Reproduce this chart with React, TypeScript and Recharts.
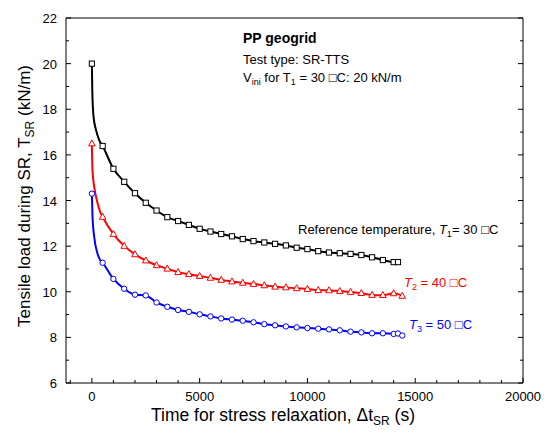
import React from 'react';
import { ComposedChart, Line, Scatter, XAxis, YAxis } from 'recharts';

// ---------- data ----------
const markerTimes = [
  0, 500, 1000, 1500, 2000, 2500, 3000, 3500, 4000, 4500, 5000, 5500, 6000, 6500, 7000,
  7500, 8000, 8500, 9000, 9500, 10000, 10500, 11000, 11500, 12000, 12500, 13000, 13500, 14000,
];
const t1Loads = [
  20.0, 16.39, 15.39, 14.82, 14.32, 13.9, 13.56, 13.27, 13.1, 12.93, 12.76, 12.64, 12.53, 12.43, 12.31,
  12.22, 12.16, 12.1, 12.03, 11.93, 11.87, 11.78, 11.72, 11.69, 11.66, 11.61, 11.51, 11.39, 11.3,
];
const t2Loads = [
  16.5, 13.28, 12.53, 12.01, 11.64, 11.37, 11.16, 11.01, 10.86, 10.77, 10.69, 10.61, 10.52, 10.45, 10.39,
  10.34, 10.28, 10.22, 10.19, 10.15, 10.12, 10.07, 10.06, 10.03, 9.99, 9.94, 9.86, 9.85, 9.93,
];
const t3Loads = [
  14.3, 11.27, 10.56, 10.13, 9.87, 9.84, 9.53, 9.34, 9.2, 9.12, 9.01, 8.92, 8.83, 8.78, 8.73,
  8.66, 8.58, 8.53, 8.48, 8.44, 8.41, 8.38, 8.35, 8.31, 8.25, 8.22, 8.18, 8.18, 8.15,
];
const t1EndTimes = [14200];
const t1EndLoads = [11.3];
const t2EndTimes = [14400];
const t2EndLoads = [9.82];
const t3EndTimes = [14200, 14400];
const t3EndLoads = [8.17, 8.08];

// early part of the continuous curves (between first two markers)
const t1EarlyTimes = [20, 75, 190, 340];
const t1EarlyLoads = [18.8, 17.7, 17.1, 16.65];
const t2EarlyTimes = [30, 110, 260, 385];
const t2EarlyLoads = [15.3, 14.6, 13.9, 13.5];
const t3EarlyTimes = [30, 110, 260, 385];
const t3EarlyLoads = [13.3, 12.4, 11.68, 11.39];

const xMajorTicks = [0, 5000, 10000, 15000, 20000];
const xAllTicks = [
  -1000, 0, 1000, 2000, 3000, 4000, 5000, 6000, 7000, 8000, 9000, 10000, 11000, 12000, 13000,
  14000, 15000, 16000, 17000, 18000, 19000, 20000,
];
const yMajorTicks = [6, 8, 10, 12, 14, 16, 18, 20, 22];
const yAllTicks = [6, 7, 8, 9, 10, 11, 12, 13, 14, 15, 16, 17, 18, 19, 20, 21, 22];
const xDomain = [-1200, 20000];
const yDomain = [6, 22];

// ---------- build tables ----------
type P = { x: number; y: number };
const zip = (xs: number[], ys: number[]): P[] => xs.map((x, i) => ({ x, y: ys[i] }));
const markers = (loads: number[], endT: number[], endL: number[]) =>
  [...zip(markerTimes, loads), ...zip(endT, endL)];
const curve = (loads: number[], endT: number[], endL: number[], eT: number[], eL: number[]) =>
  [...markers(loads, endT, endL), ...zip(eT, eL)].sort((a, b) => a.x - b.x);

const t1Markers = markers(t1Loads, t1EndTimes, t1EndLoads);
const t2Markers = markers(t2Loads, t2EndTimes, t2EndLoads);
const t3Markers = markers(t3Loads, t3EndTimes, t3EndLoads);
const t1Curve = curve(t1Loads, t1EndTimes, t1EndLoads, t1EarlyTimes, t1EarlyLoads);
const t2Curve = curve(t2Loads, t2EndTimes, t2EndLoads, t2EarlyTimes, t2EarlyLoads);
const t3Curve = curve(t3Loads, t3EndTimes, t3EndLoads, t3EarlyTimes, t3EarlyLoads);

const FONT = '"Liberation Sans", Arial, Helvetica, sans-serif';

// ---------- ticks (inward) ----------
const BottomTick = (props: any) => {
  const { x, y, payload } = props;
  const major = xMajorTicks.includes(payload.value);
  return (
    <g>
      <line x1={x} x2={x} y1={y} y2={y - (major ? 5 : 3)} stroke="#000" strokeWidth={1} />
      {major && (
        <text x={x} y={y + 18} textAnchor="middle" fontSize={13} fontFamily={FONT} fill="#000">
          {payload.value}
        </text>
      )}
    </g>
  );
};
const TopTick = (props: any) => {
  const { x, y, payload } = props;
  const major = xMajorTicks.includes(payload.value);
  return <line x1={x} x2={x} y1={y} y2={y + (major ? 5 : 3)} stroke="#000" strokeWidth={1} />;
};
const LeftTick = (props: any) => {
  const { x, y, payload } = props;
  const major = yMajorTicks.includes(payload.value);
  return (
    <g>
      <line x1={x} x2={x + (major ? 5 : 3)} y1={y} y2={y} stroke="#000" strokeWidth={1} />
      {major && (
        <text x={x - 9} y={y + 5} textAnchor="end" fontSize={13} fontFamily={FONT} fill="#000">
          {payload.value}
        </text>
      )}
    </g>
  );
};
const RightTick = (props: any) => {
  const { x, y, payload } = props;
  const major = yMajorTicks.includes(payload.value);
  return <line x1={x} x2={x - (major ? 5 : 3)} y1={y} y2={y} stroke="#000" strokeWidth={1} />;
};

// ---------- markers ----------
const SquareMark = (p: any) => (
  <rect x={p.cx - 2.6} y={p.cy - 2.6} width={5.2} height={5.2} fill="#fff" stroke="#000" strokeWidth={1} />
);
const TriangleMark = (p: any) => (
  <polygon
    points={`${p.cx},${p.cy - 3.6} ${p.cx - 3.3},${p.cy + 2.4} ${p.cx + 3.3},${p.cy + 2.4}`}
    fill="#fff"
    stroke="#ff0000"
    strokeWidth={1}
  />
);
const CircleMark = (p: any) => (
  <circle cx={p.cx} cy={p.cy} r={2.7} fill="#fff" stroke="#0000ff" strokeWidth={1} />
);

export default function App() {
  return (
    <div style={{ position: 'absolute', left: 0, top: 0, width: 544, height: 435, background: '#fff' }}>
      <ComposedChart width={544} height={435} margin={{ top: 0, right: 0, bottom: 0, left: 0 }}>
        <XAxis
          xAxisId="b"
          dataKey="x"
          type="number"
          orientation="bottom"
          domain={xDomain}
          allowDataOverflow
          ticks={xAllTicks}
          interval={0}
          height={52}
          tickSize={0}
          tickMargin={0}
          tickLine={false}
          tick={<BottomTick />}
          axisLine={{ stroke: '#000', strokeWidth: 1 }}
        />
        <XAxis
          xAxisId="t"
          type="number"
          orientation="top"
          domain={xDomain}
          allowDataOverflow
          ticks={xAllTicks}
          interval={0}
          height={18}
          tickSize={0}
          tickMargin={0}
          tickLine={false}
          tick={<TopTick />}
          axisLine={{ stroke: '#000', strokeWidth: 1 }}
        />
        <YAxis
          yAxisId="l"
          dataKey="y"
          type="number"
          orientation="left"
          domain={yDomain}
          allowDataOverflow
          ticks={yAllTicks}
          interval={0}
          width={66}
          tickSize={0}
          tickMargin={0}
          tickLine={false}
          tick={<LeftTick />}
          axisLine={{ stroke: '#000', strokeWidth: 1 }}
        />
        <YAxis
          yAxisId="r"
          type="number"
          orientation="right"
          domain={yDomain}
          allowDataOverflow
          ticks={yAllTicks}
          interval={0}
          width={21}
          tickSize={0}
          tickMargin={0}
          tickLine={false}
          tick={<RightTick />}
          axisLine={{ stroke: '#000', strokeWidth: 1 }}
        />
        <Line data={t1Curve} xAxisId="b" yAxisId="l" dataKey="y" type="monotone" dot={false}
          stroke="#000" strokeWidth={2} isAnimationActive={false} />
        <Line data={t2Curve} xAxisId="b" yAxisId="l" dataKey="y" type="monotone" dot={false}
          stroke="#ff0000" strokeWidth={2} isAnimationActive={false} />
        <Line data={t3Curve} xAxisId="b" yAxisId="l" dataKey="y" type="monotone" dot={false}
          stroke="#0000ff" strokeWidth={2} isAnimationActive={false} />
        <Scatter data={t1Markers} xAxisId="b" yAxisId="l" dataKey="y" shape={<SquareMark />}
          isAnimationActive={false} />
        <Scatter data={t2Markers} xAxisId="b" yAxisId="l" dataKey="y" shape={<TriangleMark />}
          isAnimationActive={false} />
        <Scatter data={t3Markers} xAxisId="b" yAxisId="l" dataKey="y" shape={<CircleMark />}
          isAnimationActive={false} />
      </ComposedChart>
      <svg
        width={544}
        height={435}
        style={{ position: 'absolute', left: 0, top: 0, pointerEvents: 'none' }}
        fontFamily={FONT}
      >
        <text x={243} y={43} fontSize={14} fontWeight="bold" fill="#000">PP geogrid</text>
        <text x={243} y={64} fontSize={13} fill="#000">Test type: SR-TTS</text>
        <text x={243} y={82} fontSize={13} fill="#000">
          V<tspan dy={3} fontSize={9}>ini</tspan><tspan dy={-3}> for T</tspan>
          <tspan dy={3} fontSize={9}>1</tspan><tspan dy={-3}> = 30 □C: 20 kN/m</tspan>
        </text>
        <text x={298} y={234} fontSize={13} fill="#000">
          Reference temperature, <tspan fontStyle="italic">T</tspan>
          <tspan dy={3} fontSize={9}>1</tspan><tspan dy={-3}>= 30 □C</tspan>
        </text>
        <text x={404} y={287} fontSize={13} fill="#ff0000">
          <tspan fontStyle="italic">T</tspan>
          <tspan dy={3} fontSize={9}>2</tspan><tspan dy={-3}> = 40 □C</tspan>
        </text>
        <text x={409} y={329} fontSize={13} fill="#0000ff">
          <tspan fontStyle="italic">T</tspan>
          <tspan dy={3} fontSize={9}>3</tspan><tspan dy={-3}> = 50 □C</tspan>
        </text>
        <text x={283} y={421} textAnchor="middle" fontSize={17.5} fill="#000">
          Time for stress relaxation, Δt<tspan dy={4} fontSize={12}>SR</tspan>
          <tspan dy={-4}> (s)</tspan>
        </text>
        <text transform="translate(30,196) rotate(-90)" textAnchor="middle" fontSize={17} fill="#000">
          Tensile load during SR, T<tspan dy={4} fontSize={12}>SR</tspan>
          <tspan dy={-4}> (kN/m)</tspan>
        </text>
      </svg>
    </div>
  );
}
